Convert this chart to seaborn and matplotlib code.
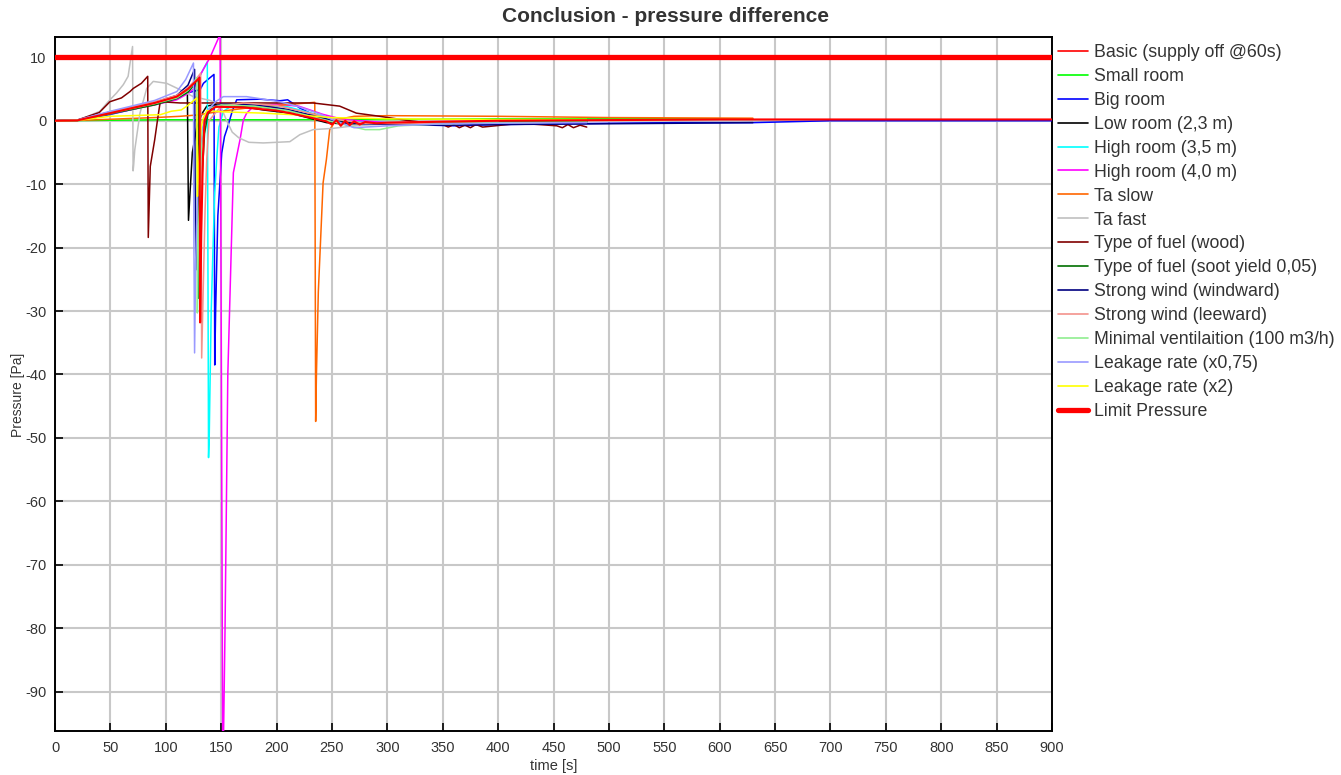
import matplotlib
matplotlib.use("Agg")
import matplotlib.pyplot as plt
import seaborn as sns

# ---------------- data ----------------
labels = [
    "Basic (supply off @60s)", "Small room", "Big room", "Low room (2,3 m)",
    "High room (3,5 m)", "High room (4,0 m)", "Ta slow", "Ta fast",
    "Type of fuel (wood)", "Type of fuel (soot yield 0,05)",
    "Strong wind (windward)", "Strong wind (leeward)",
    "Minimal ventilaition (100 m3/h)", "Leakage rate (x0,75)", "Leakage rate (x2)",
]
limit_label = "Limit Pressure"
limit_value = 10
limit_t = [0, 900]

t_basic = [0, 20, 50, 90, 110, 120, 126, 130.5, 131, 132, 133.5, 135, 138, 145, 170, 200, 212, 233, 245,
           250, 254, 258, 262, 266, 270, 275, 280, 290, 300, 330, 400, 500, 600, 700, 900]
p_basic = [0, 0.05, 1.2, 2.8, 3.8, 5.0, 6.0, 6.8, -31.8, -18, -6, 0, 1.3, 2.2, 2.1, 1.6, 1.2, 0.4, -0.1,
           -0.6, 0.1, -0.8, 0.0, -0.7, -0.1, -0.6, -0.2, -0.4, -0.3, -0.2, 0.0, 0.1, 0.2, 0.2, 0.2]

t_small = [0, 30, 60, 100, 150, 200, 300, 400, 500, 630]
p_small = [0, 0.05, 0.1, 0.15, 0.15, 0.15, 0.2, 0.3, 0.3, 0.3]

t_big = [0, 20, 50, 90, 120, 131, 134, 138, 143.5, 144.2, 145, 147, 150.5, 153, 156, 160, 164, 185, 203,
         210, 221, 236, 250, 280, 320, 360, 400, 450, 500, 560, 630, 700, 900]
p_big = [0, 0.05, 1.0, 2.6, 4.4, 4.9, 5.9, 6.5, 7.3, -38.5, -30, -15, -5.1, -2.5, -0.9, 1.5, 3.3, 3.4, 3.15,
         3.3, 2.0, 0.7, 0.0, -0.5, -0.6, -0.8, -0.6, -0.5, -0.4, -0.3, -0.3, 0.0, 0.0]

t_low = [0, 20, 50, 90, 110, 119.5, 120.5, 122, 124, 128, 133, 137, 145, 167, 188, 212, 230, 245, 260,
         300, 350, 400, 480]
p_low = [0, 0.05, 1.2, 2.6, 3.5, 4.6, -15.7, -11, -5, -1, 1.2, 2.3, 2.6, 2.3, 1.7, 1.2, 0.4, -0.3, -0.5,
         -0.4, -0.3, -0.2, -0.1]

t_high35 = [0, 20, 50, 90, 110, 120, 128, 133, 137.5, 138.6, 139.2, 141, 144, 146, 148, 152, 160, 180,
            210, 242, 260, 300, 350, 400, 480]
p_high35 = [0, 0.05, 1.1, 2.6, 3.5, 4.6, 6.2, 7.8, 9.3, -53.1, -50, -30, -12, -6, -1, 1.5, 2.4, 2.6,
            2.2, 0.7, 0.1, -0.3, -0.4, -0.3, -0.2]

t_high40 = [0, 20, 50, 90, 110, 120, 125, 132, 140, 149, 149.8, 151.5, 153.5, 156, 161, 167, 170, 173,
            180, 200, 220, 242, 260, 300, 400]
p_high40 = [0, 0.05, 1.1, 2.5, 3.3, 4.3, 5.0, 7.5, 10, 13.6, -20, -105, -80, -40, -8.2, -3, 0.1, 1.2,
            2.4, 2.6, 2.3, 1.0, 0.2, -0.3, -0.2]

t_taslow = [0, 30, 60, 90, 113, 128, 150, 173, 200, 234.5, 235.3, 236, 237.7, 242, 245, 248, 254, 270,
            300, 400, 500, 630]
p_taslow = [0, 0.1, 0.3, 0.5, 0.7, 0.9, 1.5, 2.0, 2.4, 2.9, -47.4, -40, -27, -9.8, -6.1, -1.4, 0.15, 0.7,
            0.8, 0.7, 0.5, 0.4]

t_tafast = [0, 20, 25.6, 40.6, 48, 55.7, 61.7, 66, 70, 70.5, 71, 72, 76.7, 82.8, 88.7, 100.8, 112.8,
            124.8, 140, 149, 155, 160, 166, 175, 188, 212, 221, 233, 251, 270, 300, 350, 400]
p_tafast = [0, 0.05, 0.4, 1.5, 3, 4.4, 5.7, 7, 11.7, -7.9, -7, -4.6, 1.2, 5.1, 6.2, 5.9, 4.9,
            3.8, 3.2, 2.5, 0, -1.8, -2.7, -3.4, -3.5, -3.3, -2.2, -1.4, -1.2, -0.8, -0.5, -0.3, -0.2]

t_wood = [0, 20, 40, 49.6, 60, 67.7, 70.7, 78, 83.7, 84.2, 86, 90, 93, 95, 113, 150, 200, 233, 257, 272,
          293, 320, 350, 355, 360, 365, 370, 375, 380, 386, 420, 453, 458, 463, 468, 474, 480]
p_wood = [0, 0.1, 1.3, 3, 3.6, 4.6, 5.1, 5.9, 7, -18.4, -7.2, -3, 0.7, 3, 2.8, 2.8, 2.8, 2.8, 2.3, 1.2,
          0.7, 0.0, -0.6, -1.0, -0.6, -1.1, -0.7, -1.1, -0.6, -1.0, -0.4, -0.8, -1.1, -0.6, -1.1, -0.7, -1.0]

t_soot = [0, 20, 50, 90, 110, 120, 125, 129.5, 130, 131, 133, 135, 138, 142, 150, 180, 210, 240, 260,
          300, 350, 400, 480]
p_soot = [0, 0.05, 1.1, 2.5, 3.5, 4.5, 5.5, 6.6, -28, -18, -8, -2, 1, 2, 2.4, 2.3, 1.6, 0.5, -0.2,
          -0.5, -0.4, -0.3, -0.2]

t_windward = [0, 20, 50, 90, 110, 120, 126, 126.5, 127.2, 128.5, 130, 133, 137, 142, 150, 180, 210, 240,
              260, 300, 350, 400, 480, 560, 630]
p_windward = [0, 0.1, 1.4, 2.9, 4.0, 5.6, 8.1, -10, -23.5, -15, -8, -2, 1, 2.2, 2.6, 2.5, 1.8, 0.5,
              -0.3, -0.6, -0.7, -0.6, -0.5, -0.4, -0.3]

t_leeward = [0, 20, 50, 90, 110, 120, 127, 131.5, 132.4, 134, 135.5, 137, 139, 150, 170, 200, 230, 250,
             280, 320, 400]
p_leeward = [0, 0.1, 1.4, 3.0, 4.0, 5.2, 6.5, 7.5, -37.4, -25, -14, -6, 0, 2.3, 2.8, 2.4, 1.2, 0.3,
             -0.4, -0.5, -0.3]

t_minvent = [0, 20, 50, 90, 110, 120, 125, 128, 128.5, 129.5, 131, 133, 136, 140, 150, 180, 210, 240,
             270, 280, 293, 310, 350, 400, 480]
p_minvent = [0, 0.05, 1.2, 2.7, 3.6, 4.8, 5.8, 6.8, -30.3, -18, -8, -2, 1, 2, 2.5, 2.3, 1.6, 0.3,
             -1.0, -1.4, -1.4, -0.8, -0.5, -0.3, -0.2]

t_leak075 = [0, 20, 50, 90, 110, 118, 125, 125.4, 126, 127, 129, 132, 137, 145, 152, 173, 203, 220, 240,
             250, 270, 300, 350, 400, 480]
p_leak075 = [0, 0.1, 1.5, 3.2, 4.6, 6.5, 9.1, -20, -36.6, -22, -9, -2, 1.5, 3.0, 3.8, 3.8, 3.0, 2.2, 1.0,
             0.2, -1.1, -0.8, -0.5, -0.4, -0.3]

t_leak2 = [0, 20, 50, 95, 105, 114, 119, 124, 128, 128.6, 129.2, 130.5, 132, 134, 137, 152, 188, 220,
           250, 300, 400, 480]
p_leak2 = [0, 0.05, 0.7, 0.95, 1.5, 1.7, 2.3, 3.0, 3.6, -11.9, -9, -4, -1, 0.5, 1.6, 1.4, 1.2, 0.9,
           0.5, 0.3, 0.2, 0.2]

colors = ["#ff0000", "#00ff00", "#0000ff", "#000000", "#00ffff", "#ff00ff", "#ff6600", "#c0c0c0",
          "#800000", "#007000", "#000080", "#f4928c", "#90ee90", "#9999ff", "#ffff00"]

series_t = [t_basic, t_small, t_big, t_low, t_high35, t_high40, t_taslow, t_tafast, t_wood, t_soot,
            t_windward, t_leeward, t_minvent, t_leak075, t_leak2]
series_p = [p_basic, p_small, p_big, p_low, p_high35, p_high40, p_taslow, p_tafast, p_wood, p_soot,
            p_windward, p_leeward, p_minvent, p_leak075, p_leak2]

x_ticks = list(range(0, 901, 50))
y_ticks = list(range(-90, 11, 10))

# ---------------- style ----------------
sns.set_style("white")
plt.rcParams["font.family"] = ["Liberation Sans", "DejaVu Sans"]
plt.rcParams["axes.unicode_minus"] = False
txt = "#333333"

fig = plt.figure(figsize=(13.41, 7.75), dpi=100)
ax = fig.add_axes([55 / 1341, 1 - 731 / 775, (1052 - 55) / 1341, (731 - 37) / 775])

for i, (lab, t, p, c) in enumerate(zip(labels, series_t, series_p, colors)):
    sns.lineplot(x=t, y=p, color=c, linewidth=1.5 if i == 0 else 1.1, label=lab, ax=ax,
                 sort=False, estimator=None, zorder=5 if i == 0 else 3)
sns.lineplot(x=limit_t, y=[limit_value] * len(limit_t), color="#ff0000", linewidth=3.8,
             label=limit_label, ax=ax, sort=False, estimator=None, zorder=6)

ax.set_xlim(0, 900)
ax.set_ylim(-96.2, 13.2)
ax.set_xticks(x_ticks)
ax.set_yticks(y_ticks)
ax.grid(True, color="#c8c8c8", linewidth=1.5)
ax.set_axisbelow(True)
for s in ax.spines.values():
    s.set_color("black")
    s.set_linewidth(1.4)
ax.tick_params(axis="both", direction="in", length=6, width=1.2, color="black",
               labelsize=10.5, labelcolor=txt, left=True, bottom=True)
ax.tick_params(axis="x", pad=7)
ax.tick_params(axis="y", pad=6)
ax.set_xlabel("time [s]", fontsize=10.5, color=txt)
ax.set_ylabel("Pressure [Pa]", fontsize=10, color=txt)
ax.xaxis.set_label_coords(0.5, -0.040)
ax.yaxis.set_label_coords(-0.030, 0.485)

fig.text(666 / 1341, 1 - 16 / 775, "Conclusion - pressure difference", ha="center", va="center",
         fontsize=15, fontweight="bold", color=txt)

h, l = ax.get_legend_handles_labels()
leg = ax.legend(h, l, loc="upper left", bbox_to_anchor=(1058 / 1341, 1 - 44 / 775),
                bbox_transform=fig.transFigure, frameon=False, fontsize=12.8, handlelength=1.7,
                handletextpad=0.35, labelspacing=0.39, borderaxespad=0, borderpad=0)
for t_ in leg.get_texts():
    t_.set_color(txt)
for ln in leg.get_lines()[:-1]:
    ln.set_linewidth(1.2)
leg.get_lines()[-1].set_linewidth(3.8)

fig.savefig("out.png", dpi=100)
